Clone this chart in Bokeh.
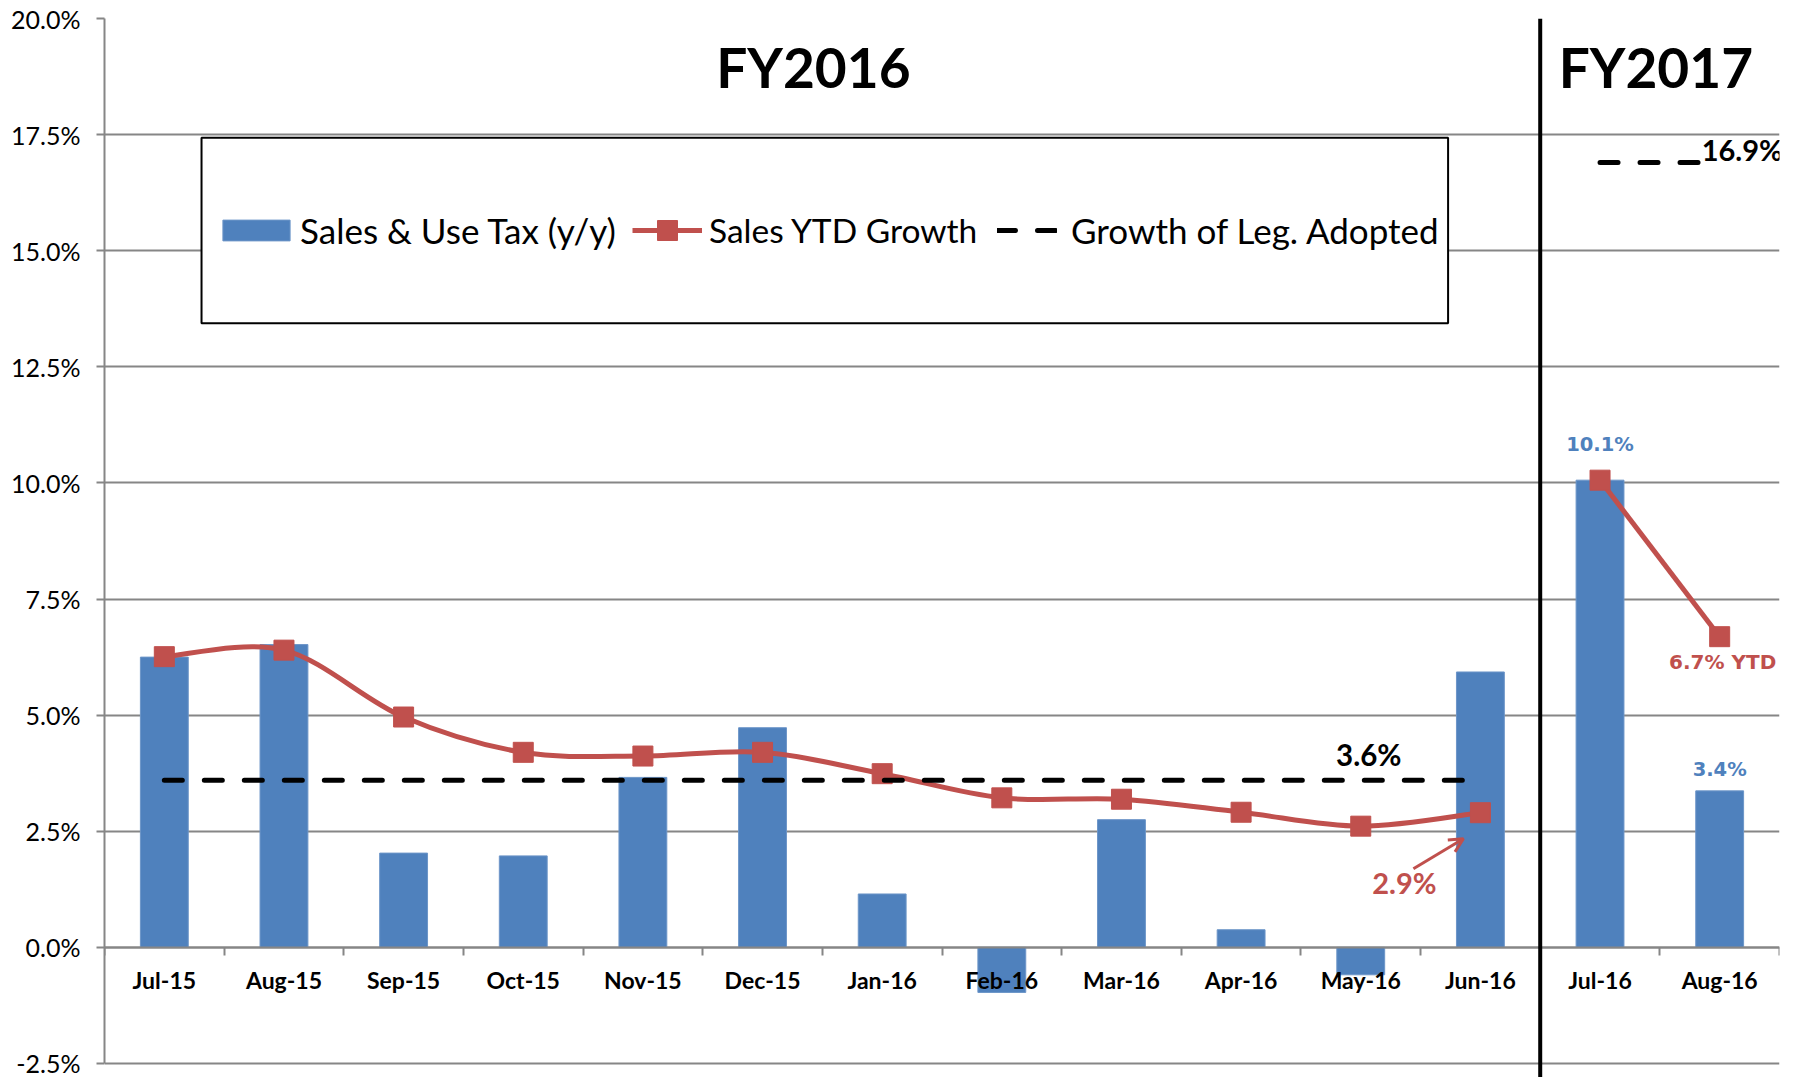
import numpy as np
from bokeh.plotting import figure
from bokeh.models import (FixedTicker, PrintfTickFormatter, Legend, LegendItem,
                          BoxAnnotation, Span, Arrow, OpenHead, Range1d)
from bokeh.core.properties import value
from bokeh.embed import file_html
from bokeh.resources import INLINE

# ---------------- data ----------------
months = ["Jul-15", "Aug-15", "Sep-15", "Oct-15", "Nov-15", "Dec-15", "Jan-16",
          "Feb-16", "Mar-16", "Apr-16", "May-16", "Jun-16", "Jul-16", "Aug-16"]
sales_use_tax_yy = [6.25, 6.52, 2.03, 1.97, 3.66, 4.73, 1.15, -0.97, 2.75, 0.38,
                    -0.59, 5.93, 10.06, 3.37]
sales_ytd_growth = [6.26, 6.40, 4.96, 4.20, 4.12, 4.20, 3.74, 3.22, 3.19, 2.91,
                    2.61, 2.90, 10.06, 6.69]
fiscal_years = ["FY2016", "FY2017"]
fy_month_counts = [12, 2]
leg_adopted_growth = [3.6, 16.9]
y_ticks = [-2.5, 0.0, 2.5, 5.0, 7.5, 10.0, 12.5, 15.0, 17.5, 20.0]

BLUE = "#4F81BD"
RED = "#C0504D"
GRID = "#868686"
FONT = "Lato"

W, H = 1805, 1077
ML, MR, MT = 104, 26, 18
EXTRA_BOTTOM = 14   # frame continues a little below the -2.5% line

idx = np.arange(len(months), dtype=float)
n16 = fy_month_counts[0]
fy_start = np.cumsum([0] + fy_month_counts[:-1])
fy_end = fy_start + np.array(fy_month_counts) - 1

px_x = (W - ML - MR) / len(months)
px_y = (H - MT - EXTRA_BOTTOM) / (y_ticks[-1] - y_ticks[0])

p = figure(width=W, height=H, output_backend="svg", toolbar_location=None,
           x_range=Range1d(-0.5, len(months) - 0.5),
           y_range=Range1d(y_ticks[0] - EXTRA_BOTTOM / px_y, y_ticks[-1]),
           min_border_left=ML, min_border_right=MR, min_border_top=MT,
           min_border_bottom=0)
p.outline_line_color = None
p.background_fill_color = "white"

# axes
p.yaxis.ticker = FixedTicker(ticks=y_ticks)
p.yaxis.bounds = (y_ticks[0], y_ticks[-1])
p.yaxis.formatter = PrintfTickFormatter(format="%.1f%%")
p.yaxis.major_label_text_font = FONT
p.yaxis.major_label_text_font_size = "25px"
p.yaxis.major_label_text_color = "black"
p.yaxis.axis_line_color = GRID
p.yaxis.axis_line_width = 2
p.yaxis.major_tick_line_color = GRID
p.yaxis.major_tick_line_width = 2
p.yaxis.major_tick_out = 8
p.yaxis.major_tick_in = 0
p.yaxis.minor_tick_line_color = None
p.yaxis.major_label_standoff = 16

p.xaxis.ticker = FixedTicker(ticks=list(idx),
                             minor_ticks=list(np.arange(-0.5, len(months), 1.0)))
p.xaxis.major_label_overrides = {float(i): m for i, m in zip(idx, months)}
p.xaxis.fixed_location = 0
p.xaxis.major_label_text_font = FONT
p.xaxis.major_label_text_font_style = "bold"
p.xaxis.major_label_text_font_size = "23px"
p.xaxis.major_label_text_color = "black"
p.xaxis.axis_line_color = GRID
p.xaxis.axis_line_width = 2
p.xaxis.major_tick_line_color = None
p.xaxis.major_tick_out = 0
p.xaxis.major_tick_in = 0
p.xaxis.minor_tick_line_color = GRID
p.xaxis.minor_tick_line_width = 2
p.xaxis.minor_tick_out = 8
p.xaxis.minor_tick_in = 0
p.xaxis.major_label_standoff = 11

p.xgrid.visible = False
p.ygrid.ticker = FixedTicker(ticks=y_ticks)
p.ygrid.grid_line_color = GRID
p.ygrid.grid_line_width = 2

# bars
bars = p.vbar(x=idx, top=sales_use_tax_yy, width=0.4, fill_color=BLUE,
              line_color="#6C95C8", line_width=1)

# smooth YTD line for FY2016 (cubic Bezier segments through the points)
xs = idx[:n16]
ys = np.array(sales_ytd_growth[:n16])
xp = np.concatenate([[xs[0]], xs, [xs[-1]]])
yp = np.concatenate([[ys[0]], ys, [ys[-1]]])
n = n16
cx0 = xs[:-1] + (xp[2:n + 1] - xp[0:n - 1]) / 6
cy0 = ys[:-1] + (yp[2:n + 1] - yp[0:n - 1]) / 6
cx1 = xs[1:] - (xp[3:n + 2] - xp[1:n]) / 6
cy1 = ys[1:] - (yp[3:n + 2] - yp[1:n]) / 6
p.bezier(x0=xs[:-1], y0=ys[:-1], x1=xs[1:], y1=ys[1:],
         cx0=cx0, cy0=cy0, cx1=cx1, cy1=cy1, line_color=RED, line_width=5)
line17 = p.line(x=idx[n16:], y=sales_ytd_growth[n16:], line_color=RED, line_width=5)
marks = p.scatter(x=idx, y=sales_ytd_growth, marker="square", size=20,
                  fill_color=RED, line_color=RED)

# legislature adopted growth (dashed)
dash_rs = []
for s, e, g in zip(fy_start, fy_end, leg_adopted_growth):
    r = p.line(x=[idx[s], idx[e]], y=[g, g], line_color="black", line_width=5,
               line_dash="18 22", line_cap="round")
    dash_rs.append(r)

# fiscal year separator
p.add_layout(Span(location=fy_end[0] + 0.5, dimension="height",
                  line_color="black", line_width=4))

# fiscal year titles
p.text(x=[(s + e) / 2 for s, e in zip(fy_start, fy_end)], y=[y_ticks[-1]] * 2,
       text=fiscal_years, text_font=value(FONT), text_font_style="bold",
       text_font_size="55px", text_align="center", text_baseline="middle",
       x_offset=[-9, -4], y_offset=48, text_color="black")

# data labels
j16 = n16 - 1
p.text(x=[idx[12], idx[13]], y=[sales_use_tax_yy[12], sales_use_tax_yy[13]],
       text=[f"{sales_use_tax_yy[12]:.1f}%", f"{sales_use_tax_yy[13]:.1f}%"],
       text_font=value("DejaVu Sans"), text_font_style="bold",
       text_font_size="19.5px", text_align="center", text_baseline="middle",
       y_offset=[-36, -21], text_color=BLUE)
p.text(x=[idx[13]], y=[sales_ytd_growth[13]],
       text=[f"{sales_ytd_growth[13]:.1f}% YTD"],
       text_font=value("DejaVu Sans"), text_font_style="bold",
       text_font_size="20px", text_align="center", text_baseline="middle",
       x_offset=3, y_offset=25, text_color=RED)
p.text(x=[idx[j16]], y=[sales_ytd_growth[j16]],
       text=[f"{sales_ytd_growth[j16]:.1f}%"],
       text_font=value(FONT), text_font_style="bold", text_font_size="29px",
       text_align="center", text_baseline="middle",
       x_offset=-76, y_offset=70, text_color=RED)
p.text(x=[idx[10]], y=[leg_adopted_growth[0]],
       text=[f"{leg_adopted_growth[0]:.1f}%"],
       text_font=value(FONT), text_font_style="bold", text_font_size="29.5px",
       text_align="center", text_baseline="middle", x_offset=8, y_offset=-26,
       text_color="black")
p.text(x=[idx[13]], y=[leg_adopted_growth[1]],
       text=[f"{leg_adopted_growth[1]:.1f}%"],
       text_font=value(FONT), text_font_style="bold", text_font_size="29px",
       text_align="left", text_baseline="middle", x_offset=-18, y_offset=-13,
       text_color="black")

# arrow pointing to the Jun-16 YTD value
p.add_layout(Arrow(end=OpenHead(size=14, line_color=RED, line_width=3),
                   x_start=idx[j16] - 67 / px_x, y_start=sales_ytd_growth[j16] - 56 / px_y,
                   x_end=idx[j16] - 17 / px_x, y_end=sales_ytd_growth[j16] - 26 / px_y,
                   line_color=RED, line_width=3))

# legend box + legend entries
p.add_layout(BoxAnnotation(left=0.311, right=10.73, top=17.43, bottom=13.44,
                           fill_color="white", fill_alpha=1.0,
                           line_color="black", line_alpha=1.0, line_width=2))

LEG_Y = EXTRA_BOTTOM  # legend locations are measured from the frame bottom
common = dict(orientation="horizontal", padding=0, margin=0, spacing=0,
              label_text_font=FONT, label_text_color="black",
              border_line_color=None, background_fill_alpha=0)
legend_a = Legend(items=[LegendItem(label="Sales & Use Tax (y/y)", renderers=[bars])],
                  location=(110, 812 + LEG_Y), glyph_width=84, glyph_height=26,
                  label_standoff=2, label_text_font_size="35px", **common)
legend_b = Legend(items=[LegendItem(label="Sales YTD Growth", renderers=[line17, marks])],
                  location=(528, 808 + LEG_Y), glyph_width=70, glyph_height=50,
                  label_standoff=7, label_text_font_size="33.5px", **common)
legend_c = Legend(items=[LegendItem(label="Growth of Leg. Adopted", renderers=[dash_rs[0]])],
                  location=(893, 812 + LEG_Y), glyph_width=60, glyph_height=22,
                  label_standoff=14, label_text_font_size="35px", **common)
for lg in (legend_a, legend_b, legend_c):
    p.add_layout(lg)

open("out.html", "w").write(file_html(p, INLINE))
